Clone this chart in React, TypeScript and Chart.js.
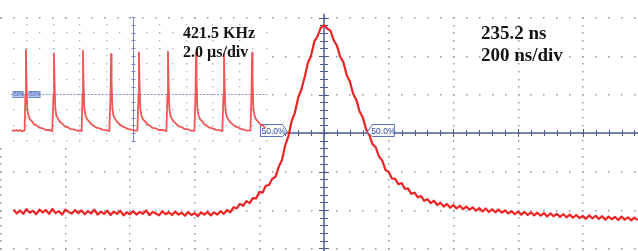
import React, { useEffect, useRef } from "react";
import { Chart, registerables } from "chart.js";

Chart.register(...registerables);

// ---------- Main trace (200 ns/div), time in ns, level in divisions ----------
const mainTimeNs = [
  -960, -950, -940, -930, -920, -910, -900, -890, -880, -870,
  -860, -850, -840, -830, -820, -810, -800, -790, -780, -770,
  -760, -750, -740, -730, -720, -710, -700, -690, -680, -670,
  -660, -650, -640, -630, -620, -610, -600, -590, -580, -570,
  -560, -550, -540, -530, -520, -510, -500, -490, -480, -470,
  -460, -450, -440, -430, -420, -410, -400, -390, -380, -370,
  -360, -350, -340, -330, -320, -310, -300, -290, -280, -270,
  -260, -250, -240, -230, -220, -210, -200, -190, -180, -170,
  -160, -150, -140, -130, -120, -110, -100, -90, -80, -70,
  -60, -50, -40, -30, -20, -10, 0, 10, 20, 30,
  40, 50, 60, 70, 80, 90, 100, 110, 120, 130,
  140, 150, 160, 170, 180, 190, 200, 210, 220, 230,
  240, 250, 260, 270, 280, 290, 300, 310, 320, 330,
  340, 350, 360, 370, 380, 390, 400, 410, 420, 430,
  440, 450, 460, 470, 480, 490, 500, 510, 520, 530,
  540, 550, 560, 570, 580, 590, 600, 610, 620, 630,
  640, 650, 660, 670, 680, 690, 700, 710, 720, 730,
  740, 750, 760, 770, 780, 790, 800, 810, 820, 830,
  840, 850, 860, 870, 880, 890, 900, 910, 920, 930,
  940, 950, 960, 970,
];
const mainLevelDiv = [
  -1.99, -2.09, -2.01, -2.10, -1.98, -2.07, -2.02, -2.11, -1.99, -2.06,
  -2.00, -2.10, -1.97, -2.08, -2.03, -2.12, -1.99, -2.05, -2.09, -2.00,
  -2.08, -2.01, -2.11, -2.03, -2.09, -1.99, -2.12, -2.04, -2.10, -2.02,
  -2.13, -2.04, -2.10, -2.02, -2.14, -2.06, -2.11, -2.03, -2.12, -2.05,
  -2.10, -2.01, -2.13, -2.05, -2.09, -2.14, -2.03, -2.11, -2.06, -2.13,
  -2.04, -2.12, -2.07, -2.15, -2.05, -2.13, -2.08, -2.16, -2.06, -2.12,
  -2.05, -2.14, -2.06, -2.12, -2.03, -2.10, -2.00, -2.06, -1.93, -1.96,
  -1.84, -1.89, -1.77, -1.82, -1.69, -1.70, -1.53, -1.55, -1.37, -1.35,
  -1.19, -1.14, -0.88, -0.70, -0.32, -0.08, 0.31, 0.53, 0.91, 1.13,
  1.45, 1.82, 2.01, 2.38, 2.51, 2.74, 2.80, 2.71, 2.66, 2.41,
  2.27, 1.98, 1.84, 1.51, 1.34, 1.02, 0.86, 0.56, 0.40, 0.10,
  -0.05, -0.29, -0.37, -0.61, -0.71, -0.96, -1.01, -1.18, -1.19, -1.33,
  -1.30, -1.45, -1.44, -1.58, -1.55, -1.67, -1.64, -1.76, -1.72, -1.82,
  -1.76, -1.87, -1.81, -1.91, -1.84, -1.94, -1.87, -1.96, -1.89, -1.98,
  -1.91, -1.99, -1.93, -2.02, -1.95, -2.04, -1.96, -2.05, -1.98, -2.06,
  -1.99, -2.07, -2.01, -2.09, -2.03, -2.11, -2.04, -2.12, -2.05, -2.13,
  -2.06, -2.14, -2.07, -2.15, -2.08, -2.17, -2.09, -2.16, -2.10, -2.18,
  -2.11, -2.19, -2.12, -2.20, -2.13, -2.21, -2.15, -2.23, -2.14, -2.22,
  -2.15, -2.23, -2.16, -2.25, -2.17, -2.24, -2.18, -2.26, -2.17, -2.25,
  -2.19, -2.27, -2.20, -2.26,
];
// 50 % crossings of the main pulse (ns) where the markers point
const halfLevelCrossingsNs = [-113, 134];

// ---------- Inset trace (2.0 us/div), time in us, level in divisions ----------
const insetTimeUs = [
  -9.10, -8.95, -8.80, -8.65, -8.50, -8.35, -8.15, -8.09, -8.05, -8.01, -7.95, -7.87, -7.75, -7.60, -7.43, -7.25, -7.05, -6.80, -6.55, -6.30, -6.07,
  -5.98, -5.94, -5.90, -5.84, -5.76, -5.64, -5.49, -5.32, -5.14, -4.94, -4.69, -4.44, -4.19, -3.96,
  -3.86, -3.80, -3.76, -3.72, -3.66, -3.58, -3.46, -3.31, -3.14, -2.96, -2.76, -2.51, -2.26, -2.01, -1.78,
  -1.69, -1.65, -1.61, -1.55, -1.47, -1.35, -1.20, -1.03, -0.85, -0.65, -0.40, -0.15, 0.10, 0.33,
  0.41, 0.45, 0.49, 0.55, 0.63, 0.75, 0.90, 1.07, 1.25, 1.45, 1.70, 1.95, 2.20, 2.51,
  2.59, 2.63, 2.67, 2.73, 2.81, 2.93, 3.08, 3.25, 3.43, 3.63, 3.88, 4.13, 4.38, 4.62,
  4.70, 4.74, 4.78, 4.84, 4.92, 5.04, 5.19, 5.36, 5.54, 5.74, 5.99, 6.24, 6.49, 6.72,
  6.80, 6.84, 6.88, 6.94, 7.02, 7.14, 7.29, 7.46, 7.64, 7.84, 8.09, 8.34, 8.59, 8.83,
  8.91, 8.95, 8.99, 9.05, 9.13, 9.25, 9.40, 9.57, 9.75, 9.95,
];
const insetLevelDiv = [
  -3.30, -3.36, -3.29, -3.35, -3.30, -3.37, -3.33, -1.0, 1.87, -0.2, -1.9, -2.33, -2.60, -2.72, -2.93, -2.99, -3.14, -3.18, -3.29, -3.28, -3.37,
  -1.0, 1.66, -0.2, -1.9, -2.37, -2.56, -2.77, -2.88, -3.05, -3.10, -3.23, -3.25, -3.34, -3.33,
  -3.36, -1.0, 1.83, -0.2, -1.9, -2.34, -2.59, -2.73, -2.92, -3.01, -3.14, -3.19, -3.28, -3.30, -3.36,
  -1.0, 1.61, -0.2, -1.9, -2.36, -2.57, -2.76, -2.89, -3.04, -3.11, -3.22, -3.26, -3.33, -3.32,
  -1.0, 1.72, -0.2, -1.9, -2.35, -2.60, -2.73, -2.93, -3.00, -3.15, -3.18, -3.29, -3.29, -3.37,
  -1.0, 1.76, -0.2, -1.9, -2.37, -2.57, -2.77, -2.89, -3.05, -3.09, -3.23, -3.24, -3.34, -3.33,
  -1.0, 1.70, -0.2, -1.9, -2.34, -2.59, -2.72, -2.92, -3.01, -3.14, -3.19, -3.28, -3.30, -3.36,
  -1.0, 1.66, -0.2, -1.9, -2.36, -2.58, -2.76, -2.90, -3.04, -3.10, -3.22, -3.26, -3.33, -3.32,
  -1.0, 1.70, -0.2, -1.9, -2.35, -2.60, -2.74, -2.92, -3.01, -3.14,
];

// ---------- Text ----------
const insetFrequencyLabel = "421.5 KHz";
const insetScaleLabel = "2.0 \u00b5s/div";
const pulseWidthLabel = "235.2 ns";
const mainScaleLabel = "200 ns/div";
const halfLevelLabel = "50.0%";
const insetHalfLevelLabel = "50%";

const DOT = "#8f96ae";
const AXIS = "#4f5b8c";
const MARK = "#3550a0";

const mainDecor = {
  id: "mainDecor",
  beforeDatasetsDraw(chart: any) {
    const { ctx } = chart;
    const sx = chart.scales.x;
    const sy = chart.scales.y;
    const inInset = (px: number, py: number) => px < 268 && py > 18.5 && py < 143;
    ctx.save();
    ctx.fillStyle = DOT;
    const dot = (px: number, py: number) => {
      if (inInset(px, py)) return;
      ctx.fillRect(Math.round(px - 0.5), Math.round(py - 0.5), 1.5, 1.5);
    };
    // vertical dotted graticule
    for (let k = -5; k <= 5; k++) {
      if (k === 0) continue;
      const px = sx.getPixelForValue(k * 200);
      for (let j = -16; j <= 15; j++) dot(px, sy.getPixelForValue(j / 5));
    }
    // horizontal dotted graticule
    for (let d = -3; d <= 3; d++) {
      if (d === 0) continue;
      const py = sy.getPixelForValue(d);
      for (let m = -25; m <= 25; m++) dot(sx.getPixelForValue(m * 40), py);
    }
    // center axes
    ctx.strokeStyle = AXIS;
    ctx.lineWidth = 1.5;
    const x0 = sx.getPixelForValue(0);
    const y0 = sy.getPixelForValue(0);
    ctx.beginPath();
    ctx.moveTo(x0, sy.getPixelForValue(3.1));
    ctx.lineTo(x0, chart.chartArea.bottom);
    ctx.moveTo(262, y0);
    ctx.lineTo(chart.chartArea.right, y0);
    ctx.stroke();
    ctx.lineWidth = 1;
    ctx.beginPath();
    for (let j = -16; j <= 15; j++) {
      const py = Math.round(sy.getPixelForValue(j / 5)) + 0.5;
      const half = j % 5 === 0 ? 5 : 4;
      ctx.moveTo(x0 - half, py);
      ctx.lineTo(x0 + half, py);
    }
    for (let m = -4; m <= 25; m++) {
      const px = Math.round(sx.getPixelForValue(m * 40)) + 0.5;
      const half = m % 5 === 0 ? 4 : 3;
      ctx.moveTo(px, y0 - half);
      ctx.lineTo(px, y0 + half);
    }
    ctx.stroke();
    ctx.restore();
  },
  afterDatasetsDraw(chart: any) {
    const { ctx } = chart;
    const sx = chart.scales.x;
    const sy = chart.scales.y;
    const y0 = sy.getPixelForValue(0);
    ctx.save();
    halfLevelCrossingsNs.forEach((ns, i) => {
      const tip = sx.getPixelForValue(ns);
      const dir = i === 0 ? -1 : 1; // box extends left of tip for first marker
      const far = tip + dir * 27;
      const near = tip + dir * 5;
      const top = y0 - 8.5;
      const bot = y0 + 3.5;
      ctx.beginPath();
      ctx.moveTo(far, top);
      ctx.lineTo(near, top);
      ctx.lineTo(tip, y0 - 1);
      ctx.lineTo(near, bot);
      ctx.lineTo(far, bot);
      ctx.closePath();
      ctx.fillStyle = "rgba(255,255,255,0.85)";
      ctx.fill();
      ctx.strokeStyle = "#5a72b8";
      ctx.lineWidth = 1;
      ctx.stroke();
      ctx.fillStyle = MARK;
      ctx.font = "8.5px 'Liberation Sans', Arial, sans-serif";
      ctx.textBaseline = "alphabetic";
      ctx.textAlign = "left";
      const tx = i === 0 ? far + 1 : near - 1;
      ctx.fillText(halfLevelLabel, tx, y0 + 0.5);
    });
    ctx.restore();
  },
};

const insetDecor = {
  id: "insetDecor",
  beforeDatasetsDraw(chart: any) {
    const { ctx } = chart;
    const sx = chart.scales.x;
    const sy = chart.scales.y;
    ctx.save();
    ctx.fillStyle = "#aab0c4";
    const dot = (px: number, py: number) =>
      ctx.fillRect(Math.round(px - 0.5), Math.round(py - 0.5), 1.3, 1.3);
    for (let k = -4; k <= 4; k++) {
      if (k === 0) continue;
      const px = sx.getPixelForValue(k * 2);
      for (let j = -8; j <= 7; j++) dot(px, sy.getPixelForValue(j / 2));
    }
    for (let d = -4; d <= 3; d++) {
      if (d === -1) continue;
      const py = sy.getPixelForValue(d);
      for (let m = -9; m <= 10; m++) dot(sx.getPixelForValue(m), py);
    }
    // center vertical line with small ticks
    const x0 = Math.round(sx.getPixelForValue(0)) + 0.5;
    ctx.strokeStyle = "#7a88c0";
    ctx.lineWidth = 1;
    ctx.beginPath();
    ctx.moveTo(x0, sy.getPixelForValue(4));
    ctx.lineTo(x0, sy.getPixelForValue(-4));
    for (let j = -8; j <= 8; j++) {
      const py = Math.round(sy.getPixelForValue(j / 2)) + 0.5;
      ctx.moveTo(x0 - 2, py);
      ctx.lineTo(x0 + 2, py);
    }
    ctx.stroke();
    // 50 % level line
    const yh = Math.round(sy.getPixelForValue(-1)) + 0.5;
    ctx.setLineDash([2, 1.5]);
    ctx.strokeStyle = "#8494c8";
    ctx.beginPath();
    ctx.moveTo(sx.getPixelForValue(-9.2), yh);
    ctx.lineTo(sx.getPixelForValue(10.1), yh);
    ctx.stroke();
    ctx.setLineDash([]);
    // two tiny 50 % tags
    [[-9.02, -8.27], [-7.82, -6.99]].forEach(([a, b]) => {
      const xa = sx.getPixelForValue(a);
      const xb = sx.getPixelForValue(b);
      ctx.fillStyle = "#b9cbee";
      ctx.fillRect(xa, yh - 3, xb - xa, 6);
      ctx.strokeStyle = "#6f88c8";
      ctx.strokeRect(xa, yh - 3, xb - xa, 6);
      ctx.fillStyle = "#3a58a8";
      ctx.font = "5px 'Liberation Sans', Arial, sans-serif";
      ctx.textBaseline = "middle";
      ctx.fillText(insetHalfLevelLabel, xa + 1, yh + 0.3);
    });
    ctx.restore();
  },
};

const labelStyle = (left: number, baseline: number, size: number): React.CSSProperties => ({
  position: "absolute",
  left,
  top: baseline - 0.8375 * size,
  fontFamily: "'Liberation Serif', 'Times New Roman', serif",
  fontWeight: 700,
  fontSize: size,
  lineHeight: `${size}px`,
  color: "#141414",
  whiteSpace: "nowrap",
});

export default function App() {
  const mainRef = useRef<HTMLCanvasElement>(null);
  const insetRef = useRef<HTMLCanvasElement>(null);

  useEffect(() => {
    const main = new Chart(mainRef.current as HTMLCanvasElement, {
      type: "line",
      data: {
        datasets: [
          {
            data: mainTimeNs.map((t, i) => ({ x: t, y: mainLevelDiv[i] })),
            borderColor: "#ec2424",
            borderWidth: 2.2,
            borderJoinStyle: "round",
            pointRadius: 0,
            tension: 0,
            fill: false,
          },
        ],
      },
      options: {
        animation: false,
        responsive: false,
        events: [],
        layout: { padding: 0 },
        plugins: { legend: { display: false }, tooltip: { enabled: false } },
        scales: {
          x: { type: "linear", min: -1002, max: 971, display: false },
          y: { type: "linear", min: -3.065, max: 3.455, display: false },
        },
      },
      plugins: [mainDecor],
    } as any);

    const inset = new Chart(insetRef.current as HTMLCanvasElement, {
      type: "line",
      data: {
        datasets: [
          {
            data: insetTimeUs.map((t, i) => ({ x: t, y: insetLevelDiv[i] })),
            borderColor: "rgba(236,58,58,0.85)",
            borderWidth: 1.8,
            borderJoinStyle: "round",
            pointRadius: 0,
            tension: 0,
            fill: false,
          },
        ],
      },
      options: {
        animation: false,
        responsive: false,
        events: [],
        layout: { padding: 0 },
        plugins: { legend: { display: false }, tooltip: { enabled: false } },
        scales: {
          x: { type: "linear", min: -10, max: 10.15, display: false },
          y: { type: "linear", min: -4.13, max: 4.13, display: false },
        },
      },
      plugins: [insetDecor],
    } as any);

    return () => {
      main.destroy();
      inset.destroy();
    };
  }, []);

  return (
    <div
      style={{
        position: "absolute",
        left: 0,
        top: 0,
        width: 638,
        height: 251,
        background: "#ffffff",
        overflow: "hidden",
      }}
    >
      <canvas ref={mainRef} width={638} height={251} style={{ position: "absolute", left: 0, top: 0 }} />
      <canvas ref={insetRef} width={268} height={128} style={{ position: "absolute", left: 0, top: 15 }} />
      <div style={labelStyle(183, 38.3, 16)}>{insetFrequencyLabel}</div>
      <div style={labelStyle(183, 57, 16)}>{insetScaleLabel}</div>
      <div style={labelStyle(481, 39, 19)}>{pulseWidthLabel}</div>
      <div style={labelStyle(481, 60.5, 19)}>{mainScaleLabel}</div>
    </div>
  );
}
